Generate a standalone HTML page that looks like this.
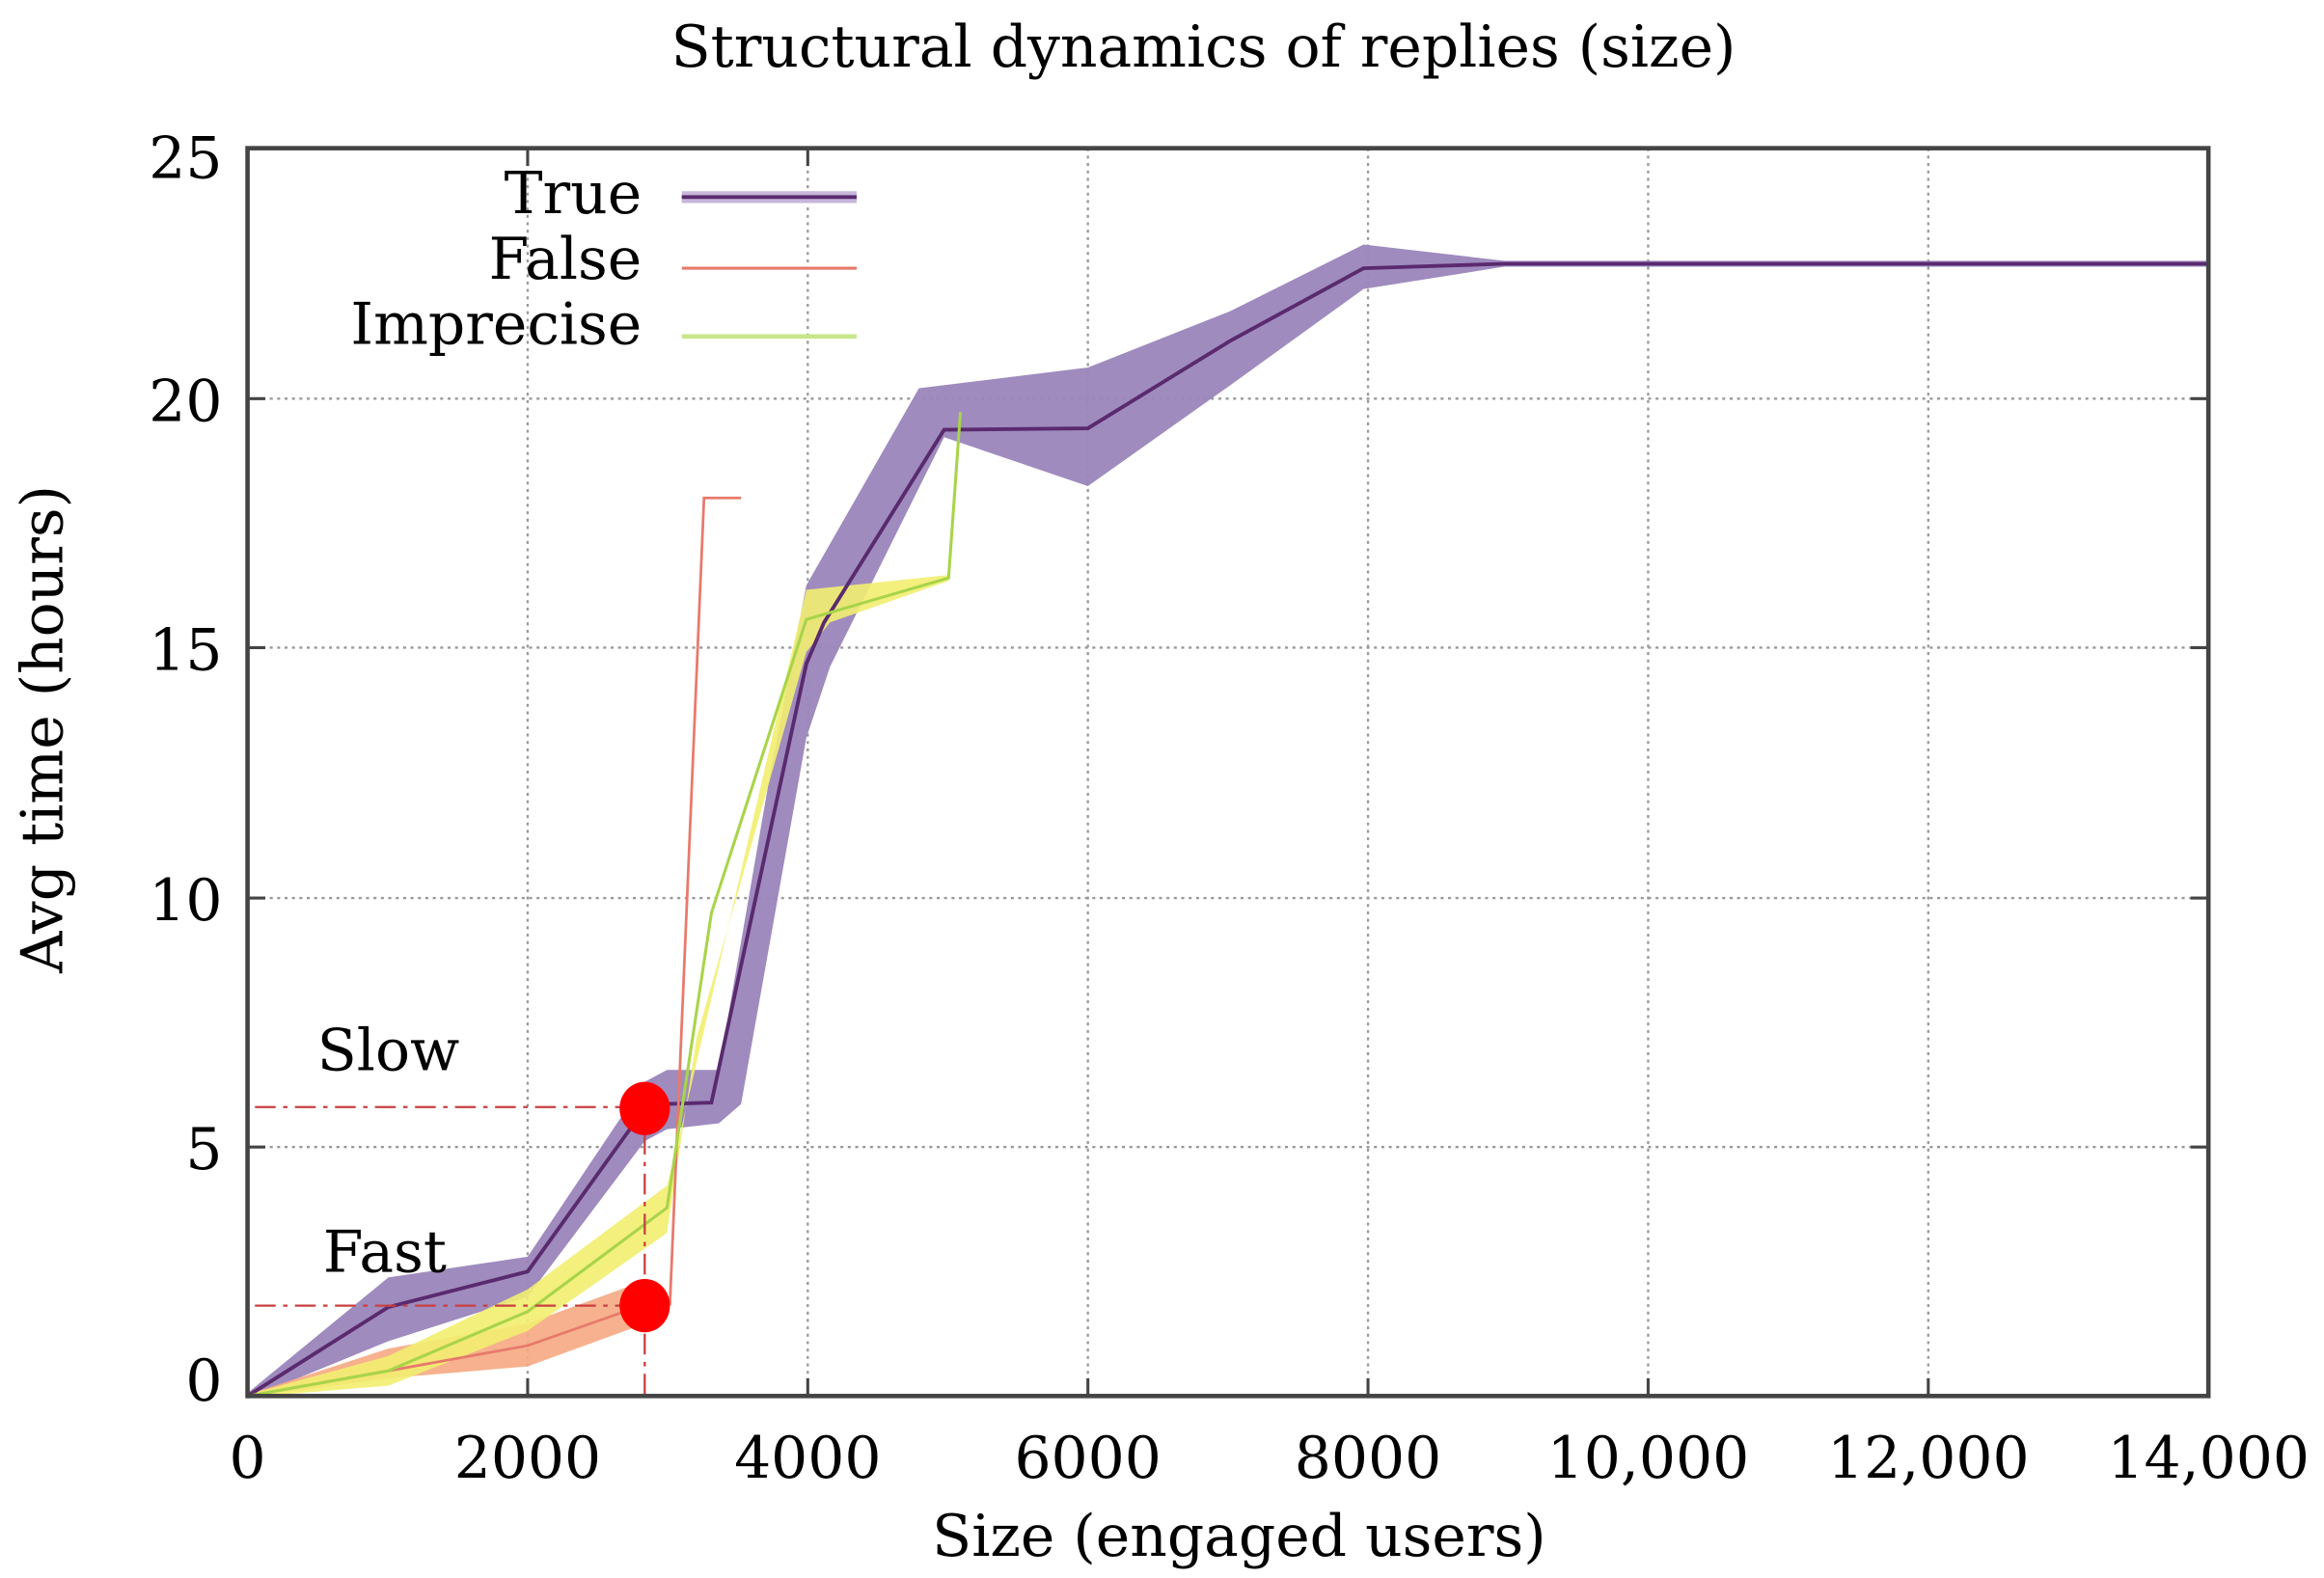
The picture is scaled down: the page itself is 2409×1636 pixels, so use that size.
<!DOCTYPE html>
<html><head><style>
html,body{margin:0;padding:0;background:#fff;}
svg{display:block;}
text{font-family:"DejaVu Serif","Liberation Serif",serif;fill:#000;}
</style></head><body>
<svg width="2409" height="1636" viewBox="0 0 1568 1064.8" preserveAspectRatio="none">
<rect x="0" y="0" width="1568" height="1065" fill="#fff"/>
<text x="812" y="45" font-size="39" text-anchor="middle">Structural dynamics of replies (size)</text>
<!-- grid -->
<g stroke="#999" stroke-width="1.5" stroke-dasharray="2,3">
<line x1="356" y1="100" x2="356" y2="942"/><line x1="545" y1="100" x2="545" y2="942"/>
<line x1="734" y1="100" x2="734" y2="942"/><line x1="923" y1="100" x2="923" y2="942"/>
<line x1="1112" y1="100" x2="1112" y2="942"/><line x1="1301" y1="100" x2="1301" y2="942"/>
<line x1="167" y1="269" x2="1490" y2="269"/><line x1="167" y1="437" x2="1490" y2="437"/>
<line x1="167" y1="606" x2="1490" y2="606"/><line x1="167" y1="774" x2="1490" y2="774"/>
</g>
<!-- bands -->
<polygon fill="#9a85bb" opacity="0.95" points="167,940 262,862 356,848 435,730 450,722 485,722 520,520 544,395 620,262 734,248 830,210 920,165 1015,176 1490,176 1490,180 1015,180 920,195 830,260 734,328 637,295 560,450 544,498 500,745 485,758 450,762 435,770 356,875 262,905 167,944"/>
<polygon fill="#f6a882" opacity="0.9" points="167,941 262,910 356,893 430,866 430,895 356,922 262,930 167,943"/>
<polygon fill="#f2ee70" opacity="0.9" points="167,941 262,915 356,870 450,800 460,760 544,398 640,388 640,392 560,420 544,440 470,700 450,832 356,898 262,935 167,943"/>
<!-- lines -->
<polyline fill="none" stroke="#5a2a6e" stroke-width="2.5" points="167,942 262,882 356,858 435,748 447,745 480,744 544,448 556,420 637,290 734,289 830,230 920,181 1015,178 1490,178"/>
<polyline fill="none" stroke="#e77a6c" stroke-width="1.8" points="167,942 262,925 356,908 430,882 452,880 475,336 500,336"/>
<polyline fill="none" stroke="#a8d44a" stroke-width="2" points="167,942 262,925 356,885 450,815 480,616 544,418 640,390 648,278"/>
<!-- annotations -->
<g stroke="#c84040" stroke-width="1.5" stroke-dasharray="14,5,3,5" fill="none">
<line x1="172" y1="747" x2="430" y2="747"/><line x1="172" y1="881" x2="430" y2="881"/>
<line x1="435" y1="765" x2="435" y2="942"/>
</g>
<ellipse cx="435" cy="748" rx="17" ry="18" fill="#f00"/>
<ellipse cx="435" cy="881" rx="17" ry="18" fill="#f00"/>
<text x="214" y="722" font-size="39">Slow</text>
<text x="218" y="858" font-size="39">Fast</text>
<!-- axes -->
<rect x="167" y="100" width="1323" height="842" fill="none" stroke="#444" stroke-width="3"/>
<g stroke="#444" stroke-width="2">
<line x1="356" y1="942" x2="356" y2="930"/><line x1="545" y1="942" x2="545" y2="930"/>
<line x1="734" y1="942" x2="734" y2="930"/><line x1="923" y1="942" x2="923" y2="930"/>
<line x1="1112" y1="942" x2="1112" y2="930"/><line x1="1301" y1="942" x2="1301" y2="930"/>
<line x1="356" y1="100" x2="356" y2="112"/><line x1="545" y1="100" x2="545" y2="112"/>
<line x1="167" y1="269" x2="179" y2="269"/><line x1="167" y1="437" x2="179" y2="437"/>
<line x1="167" y1="606" x2="179" y2="606"/><line x1="167" y1="774" x2="179" y2="774"/>
<line x1="1490" y1="269" x2="1478" y2="269"/><line x1="1490" y1="437" x2="1478" y2="437"/>
<line x1="1490" y1="606" x2="1478" y2="606"/><line x1="1490" y1="774" x2="1478" y2="774"/>
</g>
<g font-size="39" text-anchor="end">
<text x="150" y="120">25</text><text x="150" y="284">20</text><text x="150" y="452">15</text>
<text x="150" y="621">10</text><text x="150" y="789">5</text><text x="150" y="945">0</text>
</g>
<g font-size="39" text-anchor="middle">
<text x="167" y="997">0</text><text x="356" y="997">2000</text><text x="545" y="997">4000</text>
<text x="734" y="997">6000</text><text x="923" y="997">8000</text><text x="1112" y="997">10,000</text>
<text x="1301" y="997">12,000</text><text x="1490" y="997">14,000</text>
<text x="836" y="1050">Size (engaged users)</text>
</g>
<text transform="translate(42,492) rotate(-90)" font-size="39" text-anchor="middle">Avg time (hours)</text>
<!-- legend -->
<g font-size="39" text-anchor="end">
<text x="433" y="144">True</text><text x="433" y="188">False</text><text x="433" y="232">Imprecise</text>
</g>
<line x1="460" y1="133" x2="578" y2="133" stroke="#c7b5da" stroke-width="8"/>
<line x1="460" y1="133" x2="578" y2="133" stroke="#5a2a6e" stroke-width="2.5"/>
<line x1="460" y1="181" x2="578" y2="181" stroke="#e77a6c" stroke-width="2"/>
<line x1="460" y1="227" x2="578" y2="227" stroke="#c8e68a" stroke-width="3"/>
</svg>
</body></html>
